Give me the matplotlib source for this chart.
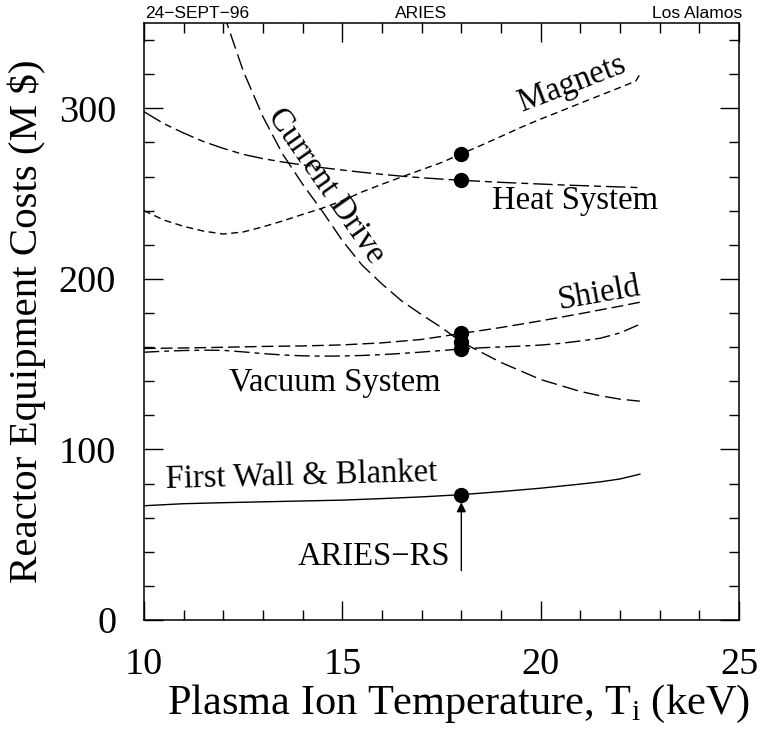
import matplotlib
matplotlib.use("Agg")
import matplotlib.pyplot as plt
from matplotlib.ticker import MultipleLocator

plt.rcParams["font.family"] = "Liberation Serif"
plt.rcParams["mathtext.fontset"] = "custom"
plt.rcParams["mathtext.rm"] = "Liberation Serif"
plt.rcParams["lines.scale_dashes"] = False

# Cost curves vs. plasma ion temperature (keV -> M$)
cd_T = [12.0, 12.5, 13.0, 13.5, 14.0, 14.5, 15.0, 15.5, 16.0, 16.5, 17.0, 17.5,
        18.0, 18.5, 19.0, 19.5, 20.0, 20.5, 21.0, 21.5, 22.0, 22.5]
cd_cost = [356, 322, 295, 273, 255.5, 239.5, 222.5, 208, 197, 187, 179, 171.5,
           163, 157, 151, 146, 141, 137.5, 134, 131.5, 129.5, 128.3]

heat_T = [10.0, 10.5, 11.0, 11.5, 12.0, 12.5, 13.0, 13.5, 14.0, 14.5, 15.0, 15.5, 16.0,
          16.5, 17.0, 17.5, 18.0, 18.5, 19.0, 19.5, 20.0, 20.5, 21.0, 21.5, 22.0, 22.5]
heat_cost = [298, 291, 285.5, 280.5, 276.5, 273, 270.5, 268.5, 266.8, 265.2, 263.8, 262.5, 261.3,
             260.2, 259.3, 258.5, 257.8, 257.2, 256.6, 256.1, 255.6, 255.1, 254.7, 254.3, 253.9, 253.5]

mag_T = [10.0, 10.5, 11.0, 11.5, 12.0, 12.5, 13.0, 13.5, 14.0, 14.5, 15.0, 15.5, 16.0,
         16.5, 17.0, 17.5, 18.0, 18.5, 19.0, 19.5, 20.0, 20.5, 21.0, 21.5, 22.0, 22.4, 22.5]
mag_cost = [240, 234.5, 230.8, 228, 226.3, 227.5, 230.5, 234, 237.8, 241.5, 245.8, 251, 255.5,
            259.8, 264, 268.2, 273.3, 278.3, 283.5, 288.8, 293.7, 298.3, 303, 307.6, 312.2, 316, 320]

shield_T = [10.0, 11.0, 12.0, 13.0, 14.0, 15.0, 16.0, 17.0, 18.0, 19.0, 20.0, 21.0, 22.0, 22.5]
shield_cost = [159.2, 159.5, 159.9, 160.4, 160.7, 161.3, 162.5, 164.5, 168, 171.5, 175.4, 179.6, 184, 186.3]

vac_T = [10.0, 10.5, 11.0, 11.5, 12.0, 12.5, 13.0, 13.5, 14.0, 14.5, 15.0, 15.5, 16.0,
         16.5, 17.0, 17.5, 18.0, 18.5, 19.0, 19.5, 20.0, 20.5, 21.0, 21.5, 22.0, 22.5]
vac_cost = [157, 157.6, 158, 158.2, 158.1, 157.2, 156.2, 155.4, 154.9, 154.7, 154.8, 155.1, 155.6,
            156.3, 157.1, 158, 158.9, 159.6, 160.1, 160.6, 161.2, 162.2, 163.6, 165.2, 168.3, 173.4]

fw_T = [10.0, 11.0, 12.0, 13.0, 14.0, 15.0, 16.0, 17.0, 18.0, 19.0, 20.0, 21.0, 21.5, 22.0, 22.5]
fw_cost = [67, 68.2, 68.8, 69.3, 69.8, 70.3, 71.2, 72.2, 73.5, 75.3, 77.3, 79.7, 81, 82.7, 85.5]

# ARIES-RS design point
design_T = 18.0
design_costs = [273.5, 257.8, 168.2, 163.2, 159.0, 73.5]

fig = plt.figure(figsize=(7.61, 7.31), dpi=100)
ax = fig.add_axes([0.1892, 0.1518, 0.7819, 0.8167])

lw = 1.0
ax.plot(cd_T, cd_cost, color="black", lw=lw, linestyle=(0, (11.5, 4.3)))
ax.plot(heat_T, heat_cost, color="black", lw=lw, linestyle=(0, (14, 3.6, 5, 3.6)))
ax.plot(mag_T, mag_cost, color="black", lw=lw, linestyle=(0, (5, 3.2)))
ax.plot(shield_T, shield_cost, color="black", lw=lw, linestyle=(0, (8.5, 3.6)))
ax.plot(vac_T, vac_cost, color="black", lw=lw, linestyle=(0, (11, 3.6, 3.5, 3.6)))
ax.plot(fw_T, fw_cost, color="black", lw=lw, linestyle="-")

ax.plot([design_T] * len(design_costs), design_costs, "o", color="black", ms=10, zorder=5)
ax.annotate("", xy=(design_T, 69), xytext=(design_T, 29),
            arrowprops=dict(arrowstyle="-|>", color="black", lw=1.0,
                            mutation_scale=14, shrinkA=0, shrinkB=0))

lab = dict(fontsize=23.5, color="black", ha="center", va="center")
ax.text(14.59, 254.3, "Current Drive", rotation=-55, rotation_mode="anchor", **lab)
ax.text(20.79, 314.6, "Magnets", rotation=21, rotation_mode="anchor", **lab)
ax.text(20.86, 246.1, "Heat System", **lab)
ax.text(21.49, 191.6, "Shield", rotation=10, rotation_mode="anchor", **lab)
ax.text(14.81, 139.4, "Vacuum System", **lab)
ax.text(13.96, 83.8, "First Wall & Blanket", rotation=1.5, rotation_mode="anchor", **lab)
ax.text(17.71, 36.9, "ARIES\u2212RS", fontsize=23.5, ha="right", va="center")

ax.set_xlim(10, 25)
ax.set_ylim(0, 350)
ax.xaxis.set_major_locator(MultipleLocator(5))
ax.xaxis.set_minor_locator(MultipleLocator(1))
ax.yaxis.set_major_locator(MultipleLocator(100))
ax.yaxis.set_minor_locator(MultipleLocator(20))
ax.tick_params(which="both", direction="in", top=True, right=True, width=1.0, labelsize=27.5)
ax.tick_params(which="major", length=13.5)
ax.tick_params(which="minor", length=7)
ax.tick_params(axis="x", which="major", pad=20)
ax.tick_params(axis="y", which="major", pad=20)
for s in ax.spines.values():
    s.set_linewidth(1.1)

ax.set_xlabel("Plasma Ion Temperature, T$_{\\mathrm{i}}$ (keV)", fontsize=30.5)
ax.set_ylabel("Reactor Equipment Costs (M $)", fontsize=29.5)
ax.xaxis.set_label_coords(0.529, -0.105)
ax.yaxis.set_label_coords(-0.165, 0.5)

# header line above the frame
hdr = dict(family="Liberation Sans", fontsize=12.5, va="center")
fig.text(145 / 761, 1 - 13 / 731, "24\u2212SEPT\u221296", ha="left", **hdr)
fig.text(421 / 761, 1 - 13 / 731, "ARIES", ha="center", **hdr)
fig.text(742 / 761, 1 - 13 / 731, "Los Alamos", ha="right", **hdr)

fig.savefig("out.png", dpi=100)
